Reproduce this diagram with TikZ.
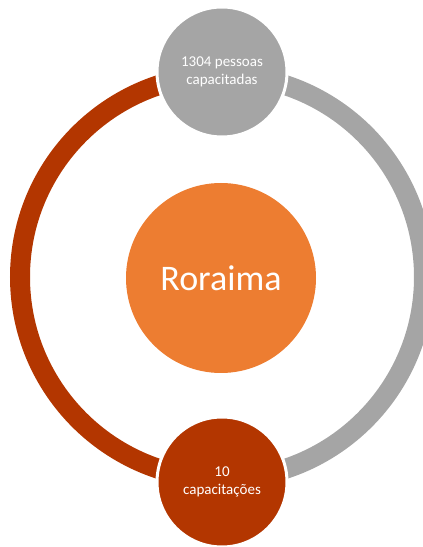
\documentclass[tikz,border=0pt]{standalone}
\usepackage{fontspec}
\setmainfont{Carlito}
\usetikzlibrary{positioning}
\definecolor{ringred}{HTML}{B33600}
\definecolor{ringgray}{HTML}{A5A5A5}
\definecolor{coreorange}{HTML}{ED7D31}

\begin{document}
\begin{tikzpicture}
	[
	x = 1pt, y = 1pt,
	ring/.style = {line width=20pt},
	bubble/.style = {circle,draw=white,line width=3pt,minimum size=130pt,inner sep=0pt,
		text=white,align=center,font=\fontsize{15}{18.5}\selectfont},
	core/.style = {circle,fill=coreorange,minimum size=190pt,inner sep=0pt,
		text=white,font=\fontsize{36}{40}\selectfont}
	]

	\useasboundingbox (0,0) rectangle (423,547);

	\coordinate (c) at (222,270);

	% ring halves
	\draw[ring, ringred] (c) ++(90:202) arc (90:270:202);
	\draw[ring, ringgray] (c) ++(90:202) arc (90:-90:202);

	\node[core] (roraima) at (221,269) {Roraima};

	\node[bubble, fill=ringgray] (pessoas) at (222,475) {1304 pessoas\\capacitadas};
	\node[bubble, fill=ringred] (cursos) at (222,65) {10\\capacitações};

\end{tikzpicture}
\end{document}
